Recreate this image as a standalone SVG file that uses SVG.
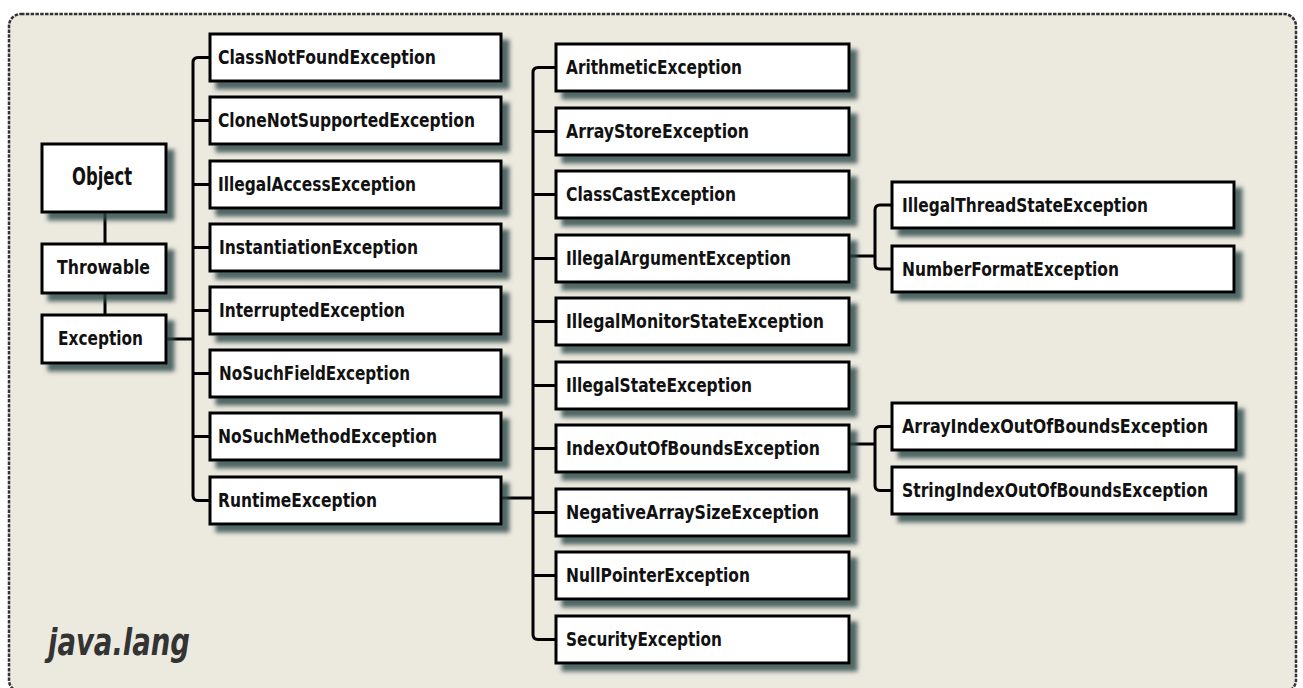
<svg xmlns="http://www.w3.org/2000/svg" width="1303" height="688" viewBox="0 0 1303 688">
<defs>
<filter id="sh" x="-10%" y="-20%" width="130%" height="160%">
<feDropShadow dx="7" dy="7" stdDeviation="2.2" flood-color="#2c4646" flood-opacity="0.8"/>
</filter>
<style>
.box{fill:#fff;stroke:#000;stroke-width:3;filter:url(#sh)}
.t{font-family:"DejaVu Sans Condensed","DejaVu Sans",sans-serif;font-weight:bold;font-size:20px;fill:#111}
.c{fill:none;stroke:#000;stroke-width:3;stroke-linejoin:round}
.frame{fill:#ECE9DF;stroke:#333;stroke-width:2.5;stroke-dasharray:3.5 1.3}
.pkg{font-family:"DejaVu Sans Condensed","DejaVu Sans",sans-serif;font-weight:bold;font-style:italic;font-size:38px;fill:#333}
</style>
</defs>
<rect width="1303" height="688" fill="#fff"/>
<rect class="frame" x="9" y="14" width="1287" height="678" rx="12"/>
<text class="pkg" x="48" y="655" textLength="142" lengthAdjust="spacingAndGlyphs">java.lang</text>

<g id="connectors">
<path class="c" d="M105,212 V244 M105,293 V315"/>
<path class="c" d="M166,339 H193"/>
<path class="c" d="M210,57.5 H198 Q193,57.5 193,62.5 V495.5 Q193,500.5 198,500.5 H210"/>
<path class="c" d="M193,120.5 H210 M193,184.5 H210 M193,247.5 H210 M193,310.5 H210 M193,373.5 H210 M193,436.5 H210"/>
<path class="c" d="M501,498 H533"/>
<path class="c" d="M556,67.5 H538 Q533,67.5 533,72.5 V634.5 Q533,639.5 538,639.5 H556"/>
<path class="c" d="M533,131.5 H556 M533,194.5 H556 M533,258.5 H556 M533,321.5 H556 M533,385.5 H556 M533,448.5 H556 M533,512.5 H556 M533,575.5 H556"/>
<path class="c" d="M849,256 H875"/>
<path class="c" d="M892,205 H880 Q875,205 875,210 V264 Q875,269 880,269 H892"/>
<path class="c" d="M849,444 H875"/>
<path class="c" d="M892,426.5 H880 Q875,426.5 875,431.5 V485.5 Q875,490.5 880,490.5 H892"/>
</g>

<g id="object"><rect class="box" x="42" y="144" width="124" height="68"/><text class="t" x="72" y="185" style="font-size:24px" textLength="60" lengthAdjust="spacingAndGlyphs">Object</text></g>
<g id="throwable"><rect class="box" x="42" y="244" width="124" height="49"/><text class="t" x="57" y="274" textLength="93" lengthAdjust="spacingAndGlyphs">Throwable</text></g>
<g id="exception"><rect class="box" x="42" y="315" width="124" height="48"/><text class="t" x="58" y="345" textLength="85" lengthAdjust="spacingAndGlyphs">Exception</text></g>

<g id="classnotfound"><rect class="box" x="210" y="34" width="291" height="47"/><text class="t" x="218" y="64" textLength="218" lengthAdjust="spacingAndGlyphs">ClassNotFoundException</text></g>
<g id="clonenotsupported"><rect class="box" x="210" y="97" width="291" height="47"/><text class="t" x="218" y="127" textLength="257" lengthAdjust="spacingAndGlyphs">CloneNotSupportedException</text></g>
<g id="illegalaccess"><rect class="box" x="210" y="161" width="291" height="47"/><text class="t" x="218" y="191" textLength="198" lengthAdjust="spacingAndGlyphs">IllegalAccessException</text></g>
<g id="instantiation"><rect class="box" x="210" y="224" width="291" height="47"/><text class="t" x="219" y="254" textLength="199" lengthAdjust="spacingAndGlyphs">InstantiationException</text></g>
<g id="interrupted"><rect class="box" x="210" y="287" width="291" height="47"/><text class="t" x="219" y="317" textLength="186" lengthAdjust="spacingAndGlyphs">InterruptedException</text></g>
<g id="nosuchfield"><rect class="box" x="210" y="350" width="291" height="47"/><text class="t" x="219" y="380" textLength="191" lengthAdjust="spacingAndGlyphs">NoSuchFieldException</text></g>
<g id="nosuchmethod"><rect class="box" x="210" y="413" width="291" height="47"/><text class="t" x="218" y="443" textLength="219" lengthAdjust="spacingAndGlyphs">NoSuchMethodException</text></g>
<g id="runtime"><rect class="box" x="210" y="477" width="291" height="47"/><text class="t" x="218" y="507" textLength="159" lengthAdjust="spacingAndGlyphs">RuntimeException</text></g>

<g id="arithmetic"><rect class="box" x="556" y="44" width="293" height="47"/><text class="t" x="566" y="74" textLength="176" lengthAdjust="spacingAndGlyphs">ArithmeticException</text></g>
<g id="arraystore"><rect class="box" x="556" y="108" width="293" height="47"/><text class="t" x="566" y="138" textLength="183" lengthAdjust="spacingAndGlyphs">ArrayStoreException</text></g>
<g id="classcast"><rect class="box" x="556" y="171" width="293" height="47"/><text class="t" x="566" y="201" textLength="170" lengthAdjust="spacingAndGlyphs">ClassCastException</text></g>
<g id="illegalargument"><rect class="box" x="556" y="235" width="293" height="47"/><text class="t" x="566" y="265" textLength="225" lengthAdjust="spacingAndGlyphs">IllegalArgumentException</text></g>
<g id="illegalmonitorstate"><rect class="box" x="556" y="298" width="293" height="47"/><text class="t" x="566" y="328" textLength="258" lengthAdjust="spacingAndGlyphs">IllegalMonitorStateException</text></g>
<g id="illegalstate"><rect class="box" x="556" y="362" width="293" height="47"/><text class="t" x="566" y="392" textLength="186" lengthAdjust="spacingAndGlyphs">IllegalStateException</text></g>
<g id="indexoutofbounds"><rect class="box" x="556" y="425" width="293" height="47"/><text class="t" x="566" y="455" textLength="254" lengthAdjust="spacingAndGlyphs">IndexOutOfBoundsException</text></g>
<g id="negativearraysize"><rect class="box" x="556" y="489" width="293" height="47"/><text class="t" x="566" y="519" textLength="253" lengthAdjust="spacingAndGlyphs">NegativeArraySizeException</text></g>
<g id="nullpointer"><rect class="box" x="556" y="552" width="293" height="47"/><text class="t" x="566" y="582" textLength="184" lengthAdjust="spacingAndGlyphs">NullPointerException</text></g>
<g id="security"><rect class="box" x="556" y="616" width="293" height="47"/><text class="t" x="566" y="646" textLength="156" lengthAdjust="spacingAndGlyphs">SecurityException</text></g>

<g id="illegalthreadstate"><rect class="box" x="892" y="182" width="342" height="46"/><text class="t" x="902" y="212" textLength="246" lengthAdjust="spacingAndGlyphs">IllegalThreadStateException</text></g>
<g id="numberformat"><rect class="box" x="892" y="246" width="342" height="46"/><text class="t" x="902" y="276" textLength="217" lengthAdjust="spacingAndGlyphs">NumberFormatException</text></g>
<g id="arrayindexoutofbounds"><rect class="box" x="892" y="403" width="344" height="47"/><text class="t" x="902" y="433" textLength="306" lengthAdjust="spacingAndGlyphs">ArrayIndexOutOfBoundsException</text></g>
<g id="stringindexoutofbounds"><rect class="box" x="892" y="467" width="344" height="47"/><text class="t" x="902" y="497" textLength="306" lengthAdjust="spacingAndGlyphs">StringIndexOutOfBoundsException</text></g>
</svg>
